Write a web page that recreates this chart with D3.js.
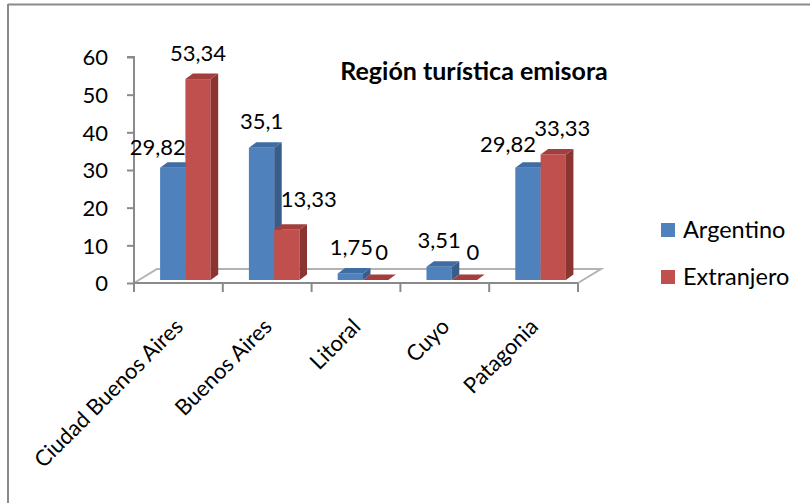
<!DOCTYPE html>
<html><head><meta charset="utf-8">
<script src="https://cdn.jsdelivr.net/npm/d3@7"></script>
<style>
html,body{margin:0;padding:0;background:#fff;}
svg{display:block;}
text{font-family:Lato,"Noto Sans",sans-serif;fill:#000;}
</style></head>
<body>
<script>
// ---- data ----
const categories = ["Ciudad Buenos Aires","Buenos Aires","Litoral","Cuyo","Patagonia"];
const seriesNames = ["Argentino","Extranjero"];
const argentino = [29.82, 35.1, 1.75, 3.51, 29.82];
const extranjero = [53.34, 13.33, 0, 0, 33.33];
const valueLabels = [["29,82","35,1","1,75","3,51","29,82"],["53,34","13,33","0","0","33,33"]];
const yTicks = [0,10,20,30,40,50,60];
const title = "Región turística emisora";

// ---- layout ----
const W = 810, H = 503;
const svg = d3.select("body").append("svg").attr("width", W).attr("height", H);

const colors = {
  Argentino: {front:"#4F81BD", side:"#385D8A", top:"#3E6CA3"},
  Extranjero:{front:"#C0504D", side:"#8B3533", top:"#A23F3C"}
};

// frame
svg.append("line").attr("x1",8).attr("y1",4.5).attr("x2",W).attr("y2",4.5).attr("stroke","#8a8a8a").attr("stroke-width",2);
svg.append("line").attr("x1",8).attr("y1",4).attr("x2",8).attr("y2",H).attr("stroke","#8a8a8a").attr("stroke-width",2);

const axisX0 = 134, axisX1 = 578, axisY0 = 283;
const depthX = 23, depthY = 14;   // floor depth
const barShiftX = 7, barShiftY = 3; // bars sit inside the floor depth
const bdx = 7.5, bdy = 5.5;          // bar prism depth

const x = d3.scaleBand().domain(categories).range([axisX0, axisX1]);
const y = d3.scaleLinear().domain([0,60]).range([axisY0, 57]);
const xs = d3.scaleBand().domain(seriesNames).range([0, x.bandwidth()*0.57]);
const groupW = x.bandwidth()*0.57;

// floor
const g = svg.append("g");
const floorPts = [[axisX0,axisY0],[axisX0+depthX,axisY0-depthY],[axisX1+depthX,axisY0-depthY],[axisX1,axisY0]];
g.append("path").attr("d", d3.line()(floorPts)).attr("fill","none").attr("stroke","#b3b3b3").attr("stroke-width",2);

// y axis
const yAxis = d3.axisLeft(y).tickValues(yTicks).tickSize(7).tickPadding(19).tickFormat(d=>d);
const ya = svg.append("g").attr("transform",`translate(${axisX0},0)`).call(yAxis);
ya.select(".domain").attr("stroke","#8a8a8a").attr("stroke-width",2).attr("d",`M-7,${y(60)}H0V${axisY0+9}`);
ya.selectAll(".tick line").attr("stroke","#8a8a8a").attr("stroke-width",2);
ya.selectAll(".tick text").style("font-family","Lato, sans-serif").style("font-size","22px").attr("fill","#000").attr("dy","0.36em");

// x axis
const xa = svg.append("g").attr("transform",`translate(0,${axisY0})`)
  .call(d3.axisBottom(x).tickSize(0).tickFormat(""));
xa.select(".domain").attr("stroke","#8a8a8a").attr("stroke-width",2).attr("d",`M${axisX0},0H${axisX1}`);
xa.selectAll(".tick").remove();
const boundaries = categories.map(c=>x(c)).concat([axisX1]);
xa.selectAll("line.xt").data(boundaries).enter().append("line")
  .attr("x1",d=>d).attr("x2",d=>d).attr("y1",0).attr("y2",9)
  .attr("stroke","#8a8a8a").attr("stroke-width",2);

// category labels
svg.append("g").selectAll("text").data(categories).enter().append("text")
  .attr("transform", d=>`translate(${x(d)+x.bandwidth()/2+6},${axisY0+45}) rotate(-45)`)
  .attr("text-anchor","end").style("font-size","22px").text(d=>d);

// bars
const series = [argentino, extranjero];
const baseY = axisY0 - barShiftY;
const hScale = v => y(0) - y(v);
const bars = [];
categories.forEach((c,i)=>{
  seriesNames.forEach((s,j)=>{
    const x0 = x(c) + x.bandwidth()/2 + barShiftX - groupW/2 + xs(s);
    const x1 = x0 + xs.bandwidth();
    const yt = baseY - hScale(series[j][i]);
    bars.push({c,s,i,j,x0,x1,yt,label:valueLabels[j][i]});
  });
});
const bg = svg.append("g");
bars.forEach(b=>{
  const col = colors[b.s];
  if (b.yt < baseY) {
    bg.append("rect").attr("x",b.x0).attr("y",b.yt).attr("width",b.x1-b.x0).attr("height",baseY-b.yt).attr("fill",col.front);
    bg.append("path").attr("d",d3.line()([[b.x1,baseY],[b.x1+bdx,baseY-bdy],[b.x1+bdx,b.yt-bdy],[b.x1,b.yt]])+"Z").attr("fill",col.side);
  }
  bg.append("path").attr("d",d3.line()([[b.x0,b.yt],[b.x0+bdx,b.yt-bdy],[b.x1+bdx,b.yt-bdy],[b.x1,b.yt]])+"Z").attr("fill",col.top);
});

// data labels (manual nudges where the original chart moved them)
const nudge = {"0-0":[-15,6],"1-1":[22,-4],"2-1":[6,-1.5],"3-1":[8.5,-1.5],"4-0":[-20,3],"4-1":[9,0],"2-0":[1,0]};
svg.append("g").selectAll("text").data(bars).enter().append("text")
  .attr("x", b=>(b.x0+b.x1)/2 + (nudge[b.i+"-"+b.j]||[0,0])[0])
  .attr("y", b=>b.yt - bdy - 13 + (nudge[b.i+"-"+b.j]||[0,0])[1])
  .attr("text-anchor","middle").style("font-size","22px").text(b=>b.label);

// title
svg.append("text").attr("x",474).attr("y",80).attr("text-anchor","middle")
  .style("font-size","25px").style("font-weight","bold").text(title);

// legend
const lg = svg.append("g").attr("transform","translate(661,223)");
seriesNames.forEach((s,k)=>{
  lg.append("rect").attr("x",0).attr("y",k*47).attr("width",14).attr("height",14).attr("fill",colors[s].front);
  lg.append("text").attr("x",22).attr("y",k*47+15).style("font-size","23.5px").text(s);
});
</script>
</body></html>
